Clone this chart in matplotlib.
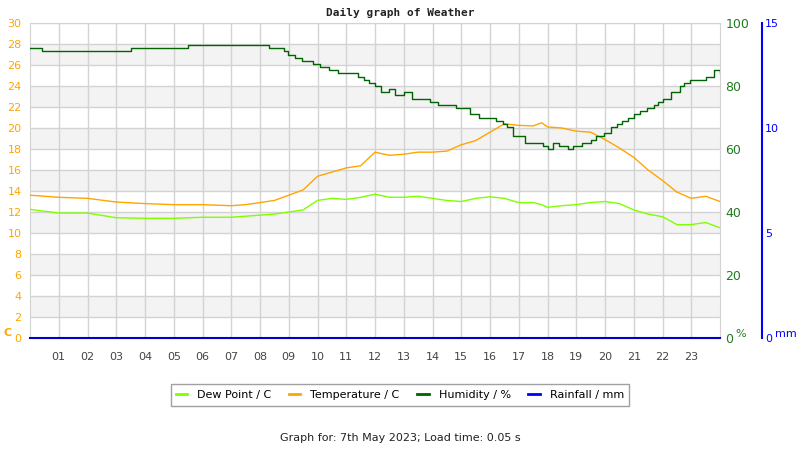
import numpy as np
import matplotlib.pyplot as plt

# readings (hour of day)
temp_hours = [0, 1, 2, 3, 4, 5, 6, 7, 7.5, 8, 8.5, 9, 9.5, 10, 10.5, 11, 11.5, 12, 12.5,
              13, 13.5, 14, 14.5, 15, 15.5, 16, 16.5, 17, 17.5, 17.8, 18, 18.5, 19, 19.5,
              20, 20.5, 21, 21.5, 22, 22.5, 23, 23.5, 24]
temperature = [13.6, 13.4, 13.3, 12.95, 12.8, 12.7, 12.7, 12.6, 12.7, 12.9, 13.1, 13.6, 14.1,
               15.4, 15.8, 16.2, 16.4, 17.7, 17.4, 17.5, 17.7, 17.7, 17.8, 18.4, 18.8, 19.6,
               20.4, 20.25, 20.2, 20.5, 20.1, 20.0, 19.7, 19.6, 18.9, 18.1, 17.2, 16.0, 15.0,
               13.9, 13.3, 13.5, 13.0]
dew_point = [12.25, 11.9, 11.9, 11.45, 11.4, 11.4, 11.5, 11.5, 11.6, 11.7, 11.8, 12.0, 12.2,
             13.1, 13.3, 13.2, 13.4, 13.7, 13.4, 13.4, 13.5, 13.3, 13.1, 13.0, 13.3, 13.45,
             13.3, 12.9, 12.9, 12.7, 12.45, 12.6, 12.7, 12.9, 13.0, 12.8, 12.2, 11.8, 11.55,
             10.8, 10.8, 11.0, 10.5]

hum_hours = [0, 0.4, 3.5, 5.5, 8.3, 8.85, 8.97, 9.2, 9.45, 9.7, 9.85, 10.1, 10.4, 10.7, 11.1,
             11.4, 11.6, 11.8, 12.0, 12.2, 12.5, 12.7, 13.0, 13.3, 13.6, 13.9, 14.2, 14.5,
             14.8, 15.0, 15.3, 15.6, 15.9, 16.2, 16.45, 16.6, 16.8, 17.2, 17.5, 17.85, 18.0,
             18.2, 18.4, 18.7, 18.9, 19.2, 19.5, 19.7, 19.95, 20.2, 20.4, 20.6, 20.8, 21.0,
             21.2, 21.45, 21.7, 21.85, 22.0, 22.3, 22.6, 22.75, 22.95, 23.5, 23.8, 24]
humidity = [92, 91, 92, 93, 92, 91, 90, 89, 88, 88, 87, 86, 85, 84, 84, 83, 82, 81, 80, 78,
            79, 77, 78, 76, 76, 75, 74, 74, 73, 73, 71, 70, 70, 69, 68, 67, 64, 62, 62, 61,
            60, 62, 61, 60, 61, 62, 63, 64, 65, 67, 68, 69, 70, 71, 72, 73, 74, 75, 76, 78,
            80, 81, 82, 83, 85, 84, 86][:len(hum_hours)]

rain_hours = [0, 24]
rainfall = [0, 0]

hour_labels = ["%02d" % h for h in range(1, 24)]

c_temp = "#ffa500"
c_dew = "#7fff00"
c_hum = "#006400"
c_hum_txt = "#1e7b1e"
c_rain = "#0000ff"
c_grid = "#d3d3d3"

fig = plt.figure(figsize=(8, 4.5), dpi=100)
ax = fig.add_axes([30/800, 1-338/450, 690/800, 315/450])

# alternating bands
for lo in range(2, 30, 4):
    ax.axhspan(lo, lo + 2, color="#f3f3f3", zorder=0, lw=0)
for y in range(0, 31, 2):
    ax.axhline(y, color=c_grid, lw=1, zorder=1)
for h in range(1, 24):
    ax.axvline(h, color=c_grid, lw=1, zorder=1)

ax.plot(temp_hours, dew_point, color=c_dew, lw=1, zorder=3, label="Dew Point / C")
ax.plot(temp_hours, temperature, color=c_temp, lw=1, zorder=3, label="Temperature / C")

ax.set_xlim(0, 24)
ax.set_ylim(0, 30)
ax.set_yticks(range(0, 31, 2))
ax.tick_params(axis="y", length=0, labelcolor=c_temp, labelsize=8, pad=6)
ax.set_xticks(range(1, 24))
ax.set_xticklabels(hour_labels)
ax.tick_params(axis="x", length=0, labelcolor="#444444", labelsize=8, pad=10)
for s in ax.spines.values():
    s.set_color(c_grid)

ax2 = ax.twinx()
ax2.step(hum_hours, humidity, where="post", color=c_hum, lw=1, zorder=4, label="Humidity / %")
ax2.set_ylim(0, 100)
ax2.set_yticks(range(0, 101, 20))
ax2.tick_params(axis="y", length=0, labelcolor=c_hum_txt, labelsize=9, pad=4)
for s in ax2.spines.values():
    s.set_visible(False)

ax3 = ax.twinx()
ax3.plot(rain_hours, rainfall, color="#0000cc", lw=1.5, zorder=5, clip_on=False, label="Rainfall / mm")
ax3.set_ylim(0, 15)
ax3.set_yticks([0, 5, 10, 15])
ax3.spines["right"].set_position(("axes", 1.061))
ax3.spines["right"].set_color(c_rain)
ax3.spines["right"].set_linewidth(1.5)
for k in ["top", "left", "bottom"]:
    ax3.spines[k].set_visible(False)
ax3.tick_params(axis="y", length=0, labelcolor=c_rain, labelsize=8, pad=2)

fig.text(400/800, 1-13/450, "Daily graph of Weather", ha="center", va="center",
         family="DejaVu Sans Mono", fontsize=8, fontweight="bold", color="#222222")
fig.text(3/800, 1-333/450, "C", ha="left", va="center", color=c_temp, fontsize=8, fontweight="bold")
fig.text(735/800, 1-334/450, "%", ha="left", va="center", color=c_hum_txt, fontsize=8)
fig.text(775/800, 1-334/450, "mm", ha="left", va="center", color=c_rain, fontsize=8)

handles = ax.get_lines()[-2:] + ax2.get_lines() + ax3.get_lines()
leg = fig.legend(handles=handles, loc="center", bbox_to_anchor=(400/800, 1-395/450), ncol=4,
                 fontsize=8, frameon=True, fancybox=False, handlelength=1.0, columnspacing=1.6,
                 handletextpad=0.9, borderpad=0.5)
leg.get_frame().set_edgecolor("#888888")
for line in leg.get_lines():
    line.set_linewidth(2)
    line.set_color(line.get_color() if line.get_color() != "#0000cc" else c_rain)

fig.text(400/800, 1-438/450, "Graph for: 7th May 2023; Load time: 0.05 s", ha="center",
         va="center", fontsize=8, color="#222222")

fig.savefig("out.png", dpi=100)
